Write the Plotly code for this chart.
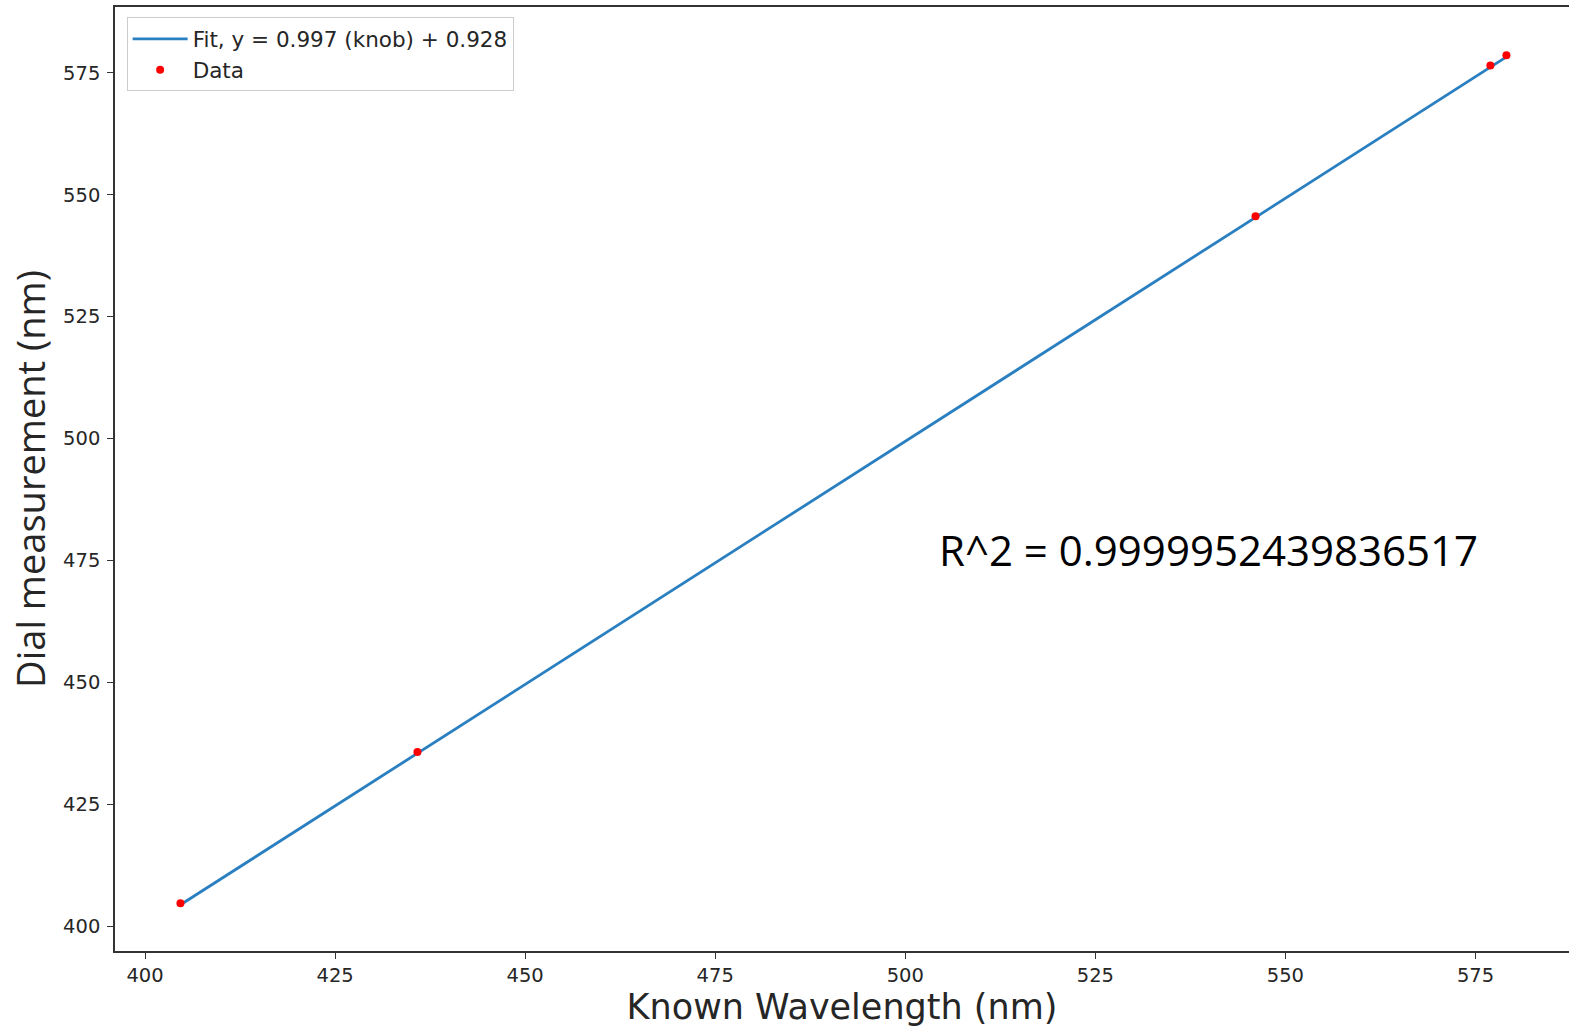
import plotly.graph_objects as go

known_wavelength = [404.66, 435.83, 546.07, 576.96, 579.07]
dial_measurement = [404.7, 435.7, 545.6, 576.5, 578.6]
dial_error = [0.6, 0.6, 0.6, 0.6, 0.6]
fit_slope = 0.997
fit_intercept = 0.928
x_ticks = [400, 425, 450, 475, 500, 525, 550, 575]
y_ticks = [400, 425, 450, 475, 500, 525, 550, 575]
r2_text = "R^2 = 0.9999952439836517"

fit_x = [min(known_wavelength), max(known_wavelength)]
fit_y = [fit_slope * v + fit_intercept for v in fit_x]

fig = go.Figure()
fig.add_trace(go.Scatter(
    x=fit_x, y=fit_y, mode="lines",
    line=dict(color="#2a7fc0", width=2.8),
    name="Fit, y = 0.997 (knob) + 0.928",
))
fig.add_trace(go.Scatter(
    x=known_wavelength, y=dial_measurement, mode="markers",
    marker=dict(color="red", size=8),
    error_y=dict(type="data", array=dial_error, color="red", thickness=2.5, width=0),
    name="Data",
))

fig.add_annotation(
    x=0.565, y=0.425, xref="paper", yref="paper", xanchor="left", yanchor="middle",
    text=r2_text, showarrow=False,
    font=dict(family="Open Sans", size=42, color="black"),
)

axis_common = dict(
    showgrid=False, zeroline=False, showline=True, linecolor="#333333", linewidth=1.5,
    ticks="outside", ticklen=6, tickwidth=1.2, tickcolor="#333333",
    tickfont=dict(family="DejaVu Sans", size=19.5, color="#262626"),
)

fig.update_layout(
    width=1569, height=1031,
    margin=dict(l=115, r=0, t=7, b=80),
    plot_bgcolor="white", paper_bgcolor="white",
    xaxis=dict(range=[396.05, 587.3], tickvals=x_ticks, mirror=True,
               title=dict(text="Known Wavelength (nm)", font=dict(family="DejaVu Sans", size=35, color="#262626"), standoff=2),
               **axis_common),
    yaxis=dict(range=[394.9, 588.5], tickvals=y_ticks, ticklabelstandoff=3,
               title=dict(text="Dial measurement (nm)", font=dict(family="Open Sans", size=38, color="#262626"), standoff=6),
               **axis_common),
    legend=dict(
        x=0.008, y=0.989, xanchor="left", yanchor="top",
        bgcolor="white", bordercolor="#cccccc", borderwidth=1,
        itemwidth=55,
        font=dict(family="DejaVu Sans", size=21.5, color="#262626"),
    ),
    showlegend=True,
)

fig.write_html("out.html")
